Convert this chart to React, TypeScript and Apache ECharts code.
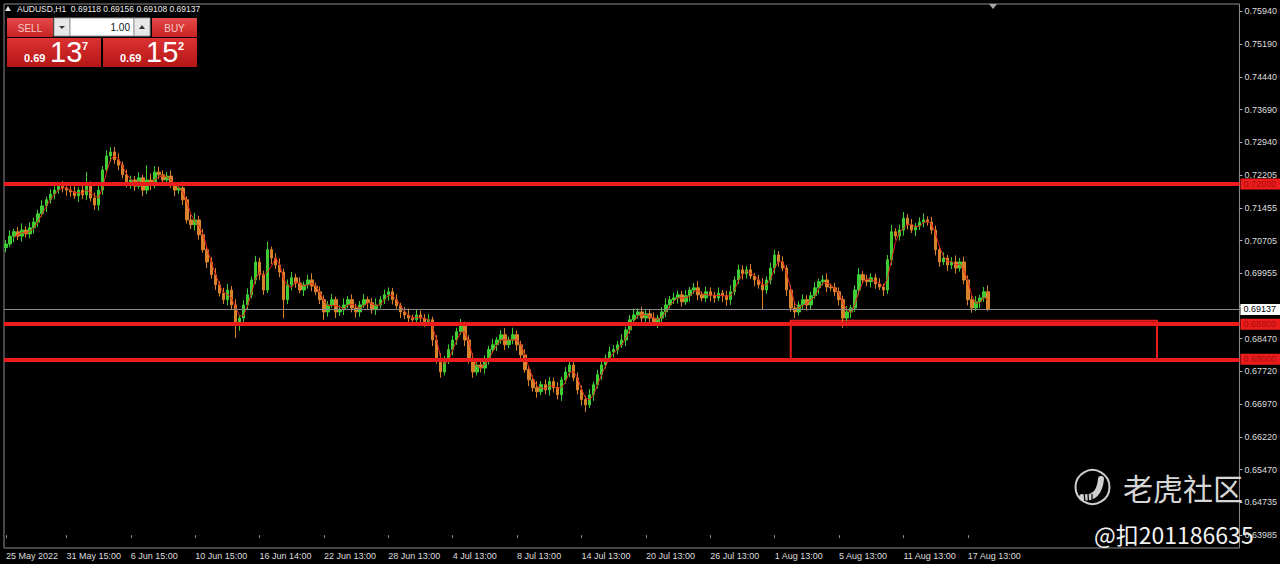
import React, { useEffect, useRef } from 'react';
import * as echarts from 'echarts';

// ---- instrument / header ----
const symbolName = 'AUDUSD,H1';
const lastBarQuote = ['0.69118', '0.69156', '0.69108', '0.69137'];
const bidPrice = 0.69137;
const askPrice = 0.69152;
const lotSize = '1.00';

// ---- time axis: trading days, 6-hour sessions ----
const tradingDays = [
  '25 May', '26 May', '27 May', '30 May', '31 May',
  '1 Jun', '2 Jun', '3 Jun', '6 Jun', '7 Jun', '8 Jun', '9 Jun', '10 Jun', '13 Jun', '14 Jun', '15 Jun', '16 Jun', '17 Jun',
  '20 Jun', '21 Jun', '22 Jun', '23 Jun', '24 Jun', '27 Jun', '28 Jun', '29 Jun', '30 Jun',
  '1 Jul', '4 Jul', '5 Jul', '6 Jul', '7 Jul', '8 Jul', '11 Jul', '12 Jul', '13 Jul', '14 Jul', '15 Jul',
  '18 Jul', '19 Jul', '20 Jul', '21 Jul', '22 Jul', '25 Jul', '26 Jul', '27 Jul', '28 Jul', '29 Jul',
  '1 Aug', '2 Aug', '3 Aug', '4 Aug', '5 Aug', '8 Aug', '9 Aug', '10 Aug', '11 Aug', '12 Aug',
  '15 Aug', '16 Aug', '17 Aug', '18 Aug',
];
const sessionHours = ['00:00', '06:00', '12:00', '18:00'];
const firstDaySessions = ['18:00'];
const shiftSlots = 62; // empty room right of the last bar

// bar where each time label sits, and the text shown there
const xTickBars = [
  '25 May 18:00', '31 May 12:00', '6 Jun 12:00', '10 Jun 12:00', '16 Jun 12:00', '22 Jun 12:00',
  '28 Jun 12:00', '4 Jul 12:00', '8 Jul 12:00', '14 Jul 12:00', '20 Jul 12:00', '26 Jul 12:00',
  '1 Aug 12:00', '5 Aug 12:00', '11 Aug 12:00', '17 Aug 12:00',
];
const xTickLabels = [
  '25 May 2022', '31 May 15:00', '6 Jun 15:00', '10 Jun 15:00', '16 Jun 14:00', '22 Jun 13:00',
  '28 Jun 13:00', '4 Jul 13:00', '8 Jul 13:00', '14 Jul 13:00', '20 Jul 13:00', '26 Jul 13:00',
  '1 Aug 13:00', '5 Aug 13:00', '11 Aug 13:00', '17 Aug 13:00',
];

// ---- price scale ----
const priceMin = 0.63693;
const priceMax = 0.76107;
// price labels, bottom to top, evenly spaced on the scale
// (the slot under the bid tag stays empty)
const yTickLabels = [
  '0.63985', '0.64735', '0.65470', '0.66220', '0.66970', '0.67720', '0.68470', '', '0.69955',
  '0.70705', '0.71455', '0.72205', '0.72940', '0.73690', '0.74440', '0.75190', '0.75940',
];
const yTickFirst = -0.391;
const yTickLast = 16.224;

// ---- OHLC (6-hour bars) ----
const barOpen = [
  0.7055, 0.7063, 0.7081, 0.7091, 0.7081, 0.7095, 0.7086, 0.7100, 0.7113, 0.7132,
  0.7150, 0.7164, 0.7177, 0.7186, 0.7195, 0.7191, 0.7186, 0.7182, 0.7173, 0.7186,
  0.7175, 0.7198, 0.7168, 0.7152, 0.7186, 0.7232, 0.7264, 0.7273, 0.7255, 0.7243,
  0.7221, 0.7202, 0.7209, 0.7195, 0.7214, 0.7186, 0.7209, 0.7198, 0.7227, 0.7221,
  0.7209, 0.7218, 0.7198, 0.7186, 0.7191, 0.7164, 0.7118, 0.7107, 0.7118, 0.7084,
  0.7050, 0.7022, 0.6993, 0.6970, 0.6951, 0.6936, 0.6958, 0.6924, 0.6879, 0.6894,
  0.6924, 0.6947, 0.6981, 0.7022, 0.6993, 0.6958, 0.7050, 0.7031, 0.7015, 0.6999,
  0.6936, 0.6970, 0.6986, 0.6974, 0.6958, 0.6970, 0.6981, 0.6967, 0.6954, 0.6936,
  0.6908, 0.6924, 0.6936, 0.6908, 0.6913, 0.6924, 0.6936, 0.6917, 0.6908, 0.6924,
  0.6936, 0.6929, 0.6913, 0.6924, 0.6936, 0.6947, 0.6954, 0.6936, 0.6922, 0.6908,
  0.6901, 0.6894, 0.6890, 0.6901, 0.6894, 0.6885, 0.6890, 0.6844, 0.6799, 0.6771,
  0.6799, 0.6822, 0.6844, 0.6863, 0.6879, 0.6844, 0.6799, 0.6771, 0.6787, 0.6780,
  0.6799, 0.6822, 0.6833, 0.6844, 0.6856, 0.6833, 0.6844, 0.6856, 0.6833, 0.6810,
  0.6776, 0.6753, 0.6735, 0.6726, 0.6742, 0.6730, 0.6749, 0.6735, 0.6719, 0.6753,
  0.6771, 0.6787, 0.6758, 0.6730, 0.6708, 0.6696, 0.6719, 0.6742, 0.6765, 0.6787,
  0.6803, 0.6817, 0.6822, 0.6833, 0.6844, 0.6867, 0.6890, 0.6901, 0.6908, 0.6894,
  0.6904, 0.6894, 0.6885, 0.6894, 0.6908, 0.6924, 0.6936, 0.6940, 0.6947, 0.6931,
  0.6945, 0.6958, 0.6963, 0.6947, 0.6940, 0.6954, 0.6945, 0.6940, 0.6951, 0.6945,
  0.6936, 0.6954, 0.6981, 0.7004, 0.6995, 0.7004, 0.6990, 0.6981, 0.6970, 0.6958,
  0.6981, 0.7008, 0.7038, 0.7022, 0.7008, 0.6958, 0.6917, 0.6908, 0.6924, 0.6936,
  0.6924, 0.6945, 0.6963, 0.6977, 0.6981, 0.6965, 0.6963, 0.6954, 0.6936, 0.6894,
  0.6908, 0.6917, 0.6958, 0.6993, 0.6981, 0.6977, 0.6986, 0.6972, 0.6965, 0.6958,
  0.7027, 0.7091, 0.7081, 0.7095, 0.7122, 0.7107, 0.7095, 0.7104, 0.7113, 0.7118,
  0.7113, 0.7095, 0.7050, 0.7022, 0.7031, 0.7015, 0.7022, 0.7008, 0.7022, 0.6981,
  0.6936, 0.6917, 0.6931, 0.6940, 0.6954,
];
const barClose = [
  0.7063, 0.7081, 0.7091, 0.7081, 0.7095, 0.7086, 0.7100, 0.7113, 0.7132, 0.7150,
  0.7164, 0.7177, 0.7186, 0.7195, 0.7191, 0.7186, 0.7182, 0.7173, 0.7186, 0.7175,
  0.7198, 0.7168, 0.7152, 0.7186, 0.7232, 0.7264, 0.7273, 0.7255, 0.7243, 0.7221,
  0.7202, 0.7209, 0.7195, 0.7214, 0.7186, 0.7209, 0.7198, 0.7227, 0.7221, 0.7209,
  0.7218, 0.7198, 0.7186, 0.7191, 0.7164, 0.7118, 0.7107, 0.7118, 0.7084, 0.7050,
  0.7022, 0.6993, 0.6970, 0.6951, 0.6936, 0.6958, 0.6924, 0.6879, 0.6894, 0.6924,
  0.6947, 0.6981, 0.7022, 0.6993, 0.6958, 0.7050, 0.7031, 0.7015, 0.6999, 0.6936,
  0.6970, 0.6986, 0.6974, 0.6958, 0.6970, 0.6981, 0.6967, 0.6954, 0.6936, 0.6908,
  0.6924, 0.6936, 0.6908, 0.6913, 0.6924, 0.6936, 0.6917, 0.6908, 0.6924, 0.6936,
  0.6929, 0.6913, 0.6924, 0.6936, 0.6947, 0.6954, 0.6936, 0.6922, 0.6908, 0.6901,
  0.6894, 0.6890, 0.6901, 0.6894, 0.6885, 0.6890, 0.6844, 0.6799, 0.6771, 0.6799,
  0.6822, 0.6844, 0.6863, 0.6879, 0.6844, 0.6799, 0.6771, 0.6787, 0.6780, 0.6799,
  0.6822, 0.6833, 0.6844, 0.6856, 0.6833, 0.6844, 0.6856, 0.6833, 0.6810, 0.6776,
  0.6753, 0.6735, 0.6726, 0.6742, 0.6730, 0.6749, 0.6735, 0.6719, 0.6753, 0.6771,
  0.6787, 0.6758, 0.6730, 0.6708, 0.6696, 0.6719, 0.6742, 0.6765, 0.6787, 0.6803,
  0.6817, 0.6822, 0.6833, 0.6844, 0.6867, 0.6890, 0.6901, 0.6908, 0.6894, 0.6904,
  0.6894, 0.6885, 0.6894, 0.6908, 0.6924, 0.6936, 0.6940, 0.6947, 0.6931, 0.6945,
  0.6958, 0.6963, 0.6947, 0.6940, 0.6954, 0.6945, 0.6940, 0.6951, 0.6945, 0.6936,
  0.6954, 0.6981, 0.7004, 0.6995, 0.7004, 0.6990, 0.6981, 0.6970, 0.6958, 0.6981,
  0.7008, 0.7038, 0.7022, 0.7008, 0.6958, 0.6917, 0.6908, 0.6924, 0.6936, 0.6924,
  0.6945, 0.6963, 0.6977, 0.6981, 0.6965, 0.6963, 0.6954, 0.6936, 0.6894, 0.6908,
  0.6917, 0.6958, 0.6993, 0.6981, 0.6977, 0.6986, 0.6972, 0.6965, 0.6958, 0.7027,
  0.7091, 0.7081, 0.7095, 0.7122, 0.7107, 0.7095, 0.7104, 0.7113, 0.7118, 0.7113,
  0.7095, 0.7050, 0.7022, 0.7031, 0.7015, 0.7022, 0.7008, 0.7022, 0.6981, 0.6936,
  0.6917, 0.6931, 0.6940, 0.6954, 0.69137,
];
const barHigh = [
  0.7072, 0.7094, 0.7098, 0.7102, 0.7110, 0.7103, 0.7112, 0.7123, 0.7141, 0.7163,
  0.7171, 0.7188, 0.7201, 0.7203, 0.7207, 0.7201, 0.7195, 0.7195, 0.7193, 0.7197,
  0.7227, 0.7206, 0.7180, 0.7196, 0.7241, 0.7277, 0.7284, 0.7284, 0.7270, 0.7251,
  0.7233, 0.7219, 0.7218, 0.7227, 0.7221, 0.7243, 0.7224, 0.7241, 0.7239, 0.7231,
  0.7227, 0.7231, 0.7205, 0.7202, 0.7206, 0.7172, 0.7130, 0.7134, 0.7127, 0.7097,
  0.7057, 0.7033, 0.7008, 0.6978, 0.6963, 0.6972, 0.6967, 0.6937, 0.6901, 0.6935,
  0.6962, 0.6989, 0.7036, 0.7032, 0.7002, 0.7068, 0.7057, 0.7042, 0.7030, 0.7007,
  0.6982, 0.6999, 0.6995, 0.6987, 0.6977, 0.6993, 0.6996, 0.6975, 0.6966, 0.6946,
  0.6933, 0.6949, 0.6943, 0.6924, 0.6939, 0.6944, 0.6948, 0.6927, 0.6933, 0.6949,
  0.6943, 0.6940, 0.6939, 0.6944, 0.6959, 0.6964, 0.6963, 0.6949, 0.6929, 0.6919,
  0.6916, 0.6902, 0.6913, 0.6911, 0.6903, 0.6903, 0.6897, 0.6855, 0.6814, 0.6807,
  0.6834, 0.6854, 0.6872, 0.6892, 0.6886, 0.6855, 0.6814, 0.6795, 0.6799, 0.6809,
  0.6831, 0.6846, 0.6851, 0.6867, 0.6871, 0.6852, 0.6872, 0.6866, 0.6842, 0.6823,
  0.6783, 0.6764, 0.6750, 0.6750, 0.6754, 0.6759, 0.6758, 0.6748, 0.6760, 0.6782,
  0.6803, 0.6795, 0.6770, 0.6740, 0.6717, 0.6732, 0.6749, 0.6776, 0.6802, 0.6811,
  0.6829, 0.6832, 0.6842, 0.6857, 0.6874, 0.6901, 0.6916, 0.6916, 0.6920, 0.6914,
  0.6913, 0.6907, 0.6901, 0.6919, 0.6939, 0.6944, 0.6952, 0.6957, 0.6956, 0.6958,
  0.6965, 0.6974, 0.6978, 0.6955, 0.6966, 0.6964, 0.6954, 0.6964, 0.6958, 0.6956,
  0.6969, 0.6989, 0.7016, 0.7014, 0.7013, 0.7017, 0.6997, 0.6992, 0.6985, 0.6989,
  0.7020, 0.7050, 0.7047, 0.7035, 0.7015, 0.6969, 0.6932, 0.6932, 0.6948, 0.6946,
  0.6954, 0.6976, 0.6984, 0.6992, 0.6996, 0.6973, 0.6975, 0.6964, 0.6945, 0.6921,
  0.6924, 0.6969, 0.7008, 0.7001, 0.6993, 0.6996, 0.6995, 0.6985, 0.6972, 0.7038,
  0.7107, 0.7099, 0.7107, 0.7136, 0.7131, 0.7120, 0.7111, 0.7124, 0.7133, 0.7126,
  0.7125, 0.7105, 0.7059, 0.7044, 0.7038, 0.7033, 0.7037, 0.7031, 0.7034, 0.6991,
  0.6945, 0.6944, 0.6947, 0.6965, 0.6969,
];
const barLow = [
  0.7044, 0.7056, 0.7067, 0.7072, 0.7069, 0.7078, 0.7076, 0.7087, 0.7102, 0.7125,
  0.7136, 0.7155, 0.7165, 0.7178, 0.7181, 0.7173, 0.7171, 0.7166, 0.7159, 0.7166,
  0.7163, 0.7160, 0.7141, 0.7139, 0.7175, 0.7225, 0.7250, 0.7246, 0.7231, 0.7213,
  0.7192, 0.7189, 0.7184, 0.7188, 0.7172, 0.7177, 0.7186, 0.7190, 0.7211, 0.7196,
  0.7198, 0.7191, 0.7172, 0.7177, 0.7152, 0.7110, 0.7097, 0.7094, 0.7073, 0.7043,
  0.7008, 0.6984, 0.6958, 0.6943, 0.6926, 0.6923, 0.6913, 0.6849, 0.6865, 0.6885,
  0.6912, 0.6939, 0.6971, 0.6980, 0.6947, 0.6951, 0.7017, 0.7006, 0.6987, 0.6894,
  0.6926, 0.6957, 0.6963, 0.6951, 0.6944, 0.6961, 0.6955, 0.6946, 0.6926, 0.6890,
  0.6897, 0.6917, 0.6894, 0.6899, 0.6901, 0.6916, 0.6907, 0.6895, 0.6897, 0.6917,
  0.6915, 0.6904, 0.6901, 0.6916, 0.6926, 0.6934, 0.6925, 0.6915, 0.6894, 0.6892,
  0.6882, 0.6882, 0.6880, 0.6881, 0.6874, 0.6878, 0.6830, 0.6790, 0.6758, 0.6763,
  0.6789, 0.6809, 0.6833, 0.6856, 0.6830, 0.6790, 0.6758, 0.6763, 0.6770, 0.6767,
  0.6788, 0.6815, 0.6819, 0.6835, 0.6821, 0.6825, 0.6834, 0.6820, 0.6799, 0.6769,
  0.6739, 0.6726, 0.6712, 0.6718, 0.6720, 0.6717, 0.6724, 0.6708, 0.6705, 0.6744,
  0.6759, 0.6750, 0.6720, 0.6695, 0.6680, 0.6689, 0.6705, 0.6733, 0.6753, 0.6779,
  0.6793, 0.6804, 0.6811, 0.6826, 0.6830, 0.6858, 0.6878, 0.6893, 0.6884, 0.6881,
  0.6883, 0.6878, 0.6871, 0.6885, 0.6896, 0.6916, 0.6926, 0.6927, 0.6920, 0.6924,
  0.6931, 0.6949, 0.6935, 0.6932, 0.6930, 0.6932, 0.6929, 0.6933, 0.6931, 0.6922,
  0.6924, 0.6946, 0.6971, 0.6982, 0.6984, 0.6983, 0.6967, 0.6961, 0.6913, 0.6950,
  0.6971, 0.6995, 0.7011, 0.7001, 0.6944, 0.6908, 0.6894, 0.6900, 0.6914, 0.6911,
  0.6913, 0.6938, 0.6949, 0.6968, 0.6953, 0.6955, 0.6944, 0.6923, 0.6872, 0.6887,
  0.6894, 0.6908, 0.6946, 0.6973, 0.6967, 0.6964, 0.6961, 0.6958, 0.6944, 0.6949,
  0.7015, 0.7073, 0.7071, 0.7082, 0.7096, 0.7088, 0.7081, 0.7095, 0.7101, 0.7105,
  0.7085, 0.7037, 0.7011, 0.7015, 0.7001, 0.7006, 0.6996, 0.7000, 0.6971, 0.6923,
  0.6906, 0.6910, 0.6917, 0.6931, 0.6910,
];

// ---- drawn levels ----
const levelLines = [0.72, 0.688, 0.68];
const zoneFrom = '2 Aug 12:00';
const zoneTo = 'shift 42';
const zoneTop = 0.6888;
const zoneBottom = 0.6796;
const maPeriod = 3;

// ---- watermark ----
const brandText = '老虎社区';
const handleText = '@扣201186635';

// ---- styles ----
const UI_FONT = '"Liberation Sans", Arial, sans-serif';
const CJK_FONT = '"Noto Sans CJK SC", "Noto Sans", sans-serif';
const BULL = '#3fcc35';
const BEAR = '#d9822b';
const MA_RED = '#e3241c';
const LEVEL_RED = '#ec1c1c';
const FRAME = '#8c8c8c';
const AXIS_TEXT = '#dedede';

function buildCategories(): string[] {
  const cats: string[] = [];
  tradingDays.forEach((day, d) => {
    const hours = d === 0 ? firstDaySessions : sessionHours;
    hours.forEach((h) => cats.push(`${day} ${h}`));
  });
  for (let s = 1; s <= shiftSlots; s++) cats.push(`shift ${s}`);
  return cats;
}

function movingAverage(values: number[], period: number): (number | string)[] {
  return values.map((_, i) => {
    if (i < period - 1) return '-';
    let sum = 0;
    for (let k = i - period + 1; k <= i; k++) sum += values[k];
    return +(sum / period).toFixed(5);
  });
}

function txt(x: number, y: number, text: string, size: number, fill: string, extra: any = {}) {
  const align = extra.align ?? 'left';
  return {
    type: 'text',
    x,
    y,
    z: 100,
    silent: true,
    style: {
      text,
      fill,
      fontSize: size,
      fontFamily: extra.family ?? UI_FONT,
      fontWeight: extra.weight ?? 'normal',
      align,
      textAlign: align,
      verticalAlign: 'middle',
      textVerticalAlign: 'middle',
    },
  };
}

function box(x: number, y: number, w: number, h: number, fill: any, stroke?: string) {
  return {
    type: 'rect',
    z: 99,
    silent: true,
    shape: { x, y, width: w, height: h },
    style: { fill, stroke: stroke ?? 'none', lineWidth: 1 },
  };
}

function redGradient(top: string, bottom: string) {
  return new echarts.graphic.LinearGradient(0, 0, 0, 1, [
    { offset: 0, color: top },
    { offset: 1, color: bottom },
  ]);
}

function quoteParts(p: number): [string, string, string] {
  const s = p.toFixed(5);
  return [s.slice(0, 4), s.slice(4, 6), s.slice(6)];
}

function buildGraphics() {
  const [sBig, sMid, sSup] = quoteParts(bidPrice);
  const [bBig, bMid, bSup] = quoteParts(askPrice);
  const els: any[] = [
    // header line
    { type: 'polygon', z: 100, silent: true, shape: { points: [[5, 11], [11, 11], [8, 6]] }, style: { fill: '#e6e6e6' } },
    txt(17, 9, `${symbolName}  ${lastBarQuote.join(' ')}`, 8.5, '#ececec'),
    // chart shift marker
    { type: 'polygon', z: 100, silent: true, shape: { points: [[989, 4], [997, 4], [993, 9]] }, style: { fill: '#a8a8a8' } },

    // one-click trading panel
    box(7, 18, 46, 19, redGradient('#e44a4a', '#c82222')),
    txt(30, 28, 'SELL', 10, '#f6c8c8', { align: 'center' }),
    box(54, 18, 16, 18, '#e8e8e8', '#9a9a9a'),
    { type: 'polygon', z: 100, silent: true, shape: { points: [[59, 26], [65, 26], [62, 29]] }, style: { fill: '#333' } },
    box(70, 18, 64, 18, '#ffffff', '#9a9a9a'),
    txt(130, 27.5, lotSize, 10, '#111', { align: 'right' }),
    box(134, 18, 16, 18, '#e8e8e8', '#9a9a9a'),
    { type: 'polygon', z: 100, silent: true, shape: { points: [[139, 29], [145, 29], [142, 25]] }, style: { fill: '#333' } },
    box(152, 18, 45, 19, redGradient('#e44a4a', '#c82222')),
    txt(174.5, 28, 'BUY', 10, '#f6c8c8', { align: 'center' }),

    box(7, 38, 94, 29, redGradient('#dc3232', '#b41616')),
    txt(24, 58, sBig, 11, '#ffffff', { weight: 'bold' }),
    txt(50, 52, sMid, 29, '#ffffff'),
    txt(82, 46, sSup, 11, '#ffffff', { weight: 'bold' }),
    box(103, 38, 94, 29, redGradient('#dc3232', '#b41616')),
    txt(120, 58, bBig, 11, '#ffffff', { weight: 'bold' }),
    txt(146, 52, bMid, 29, '#ffffff'),
    txt(178, 46, bSup, 11, '#ffffff', { weight: 'bold' }),

    // watermark logo
    { type: 'circle', z: 100, silent: true, shape: { cx: 1092.5, cy: 487, r: 17 }, style: { fill: 'none', stroke: '#cfcfcf', lineWidth: 2 } },
    {
      type: 'bezierCurve', z: 100, silent: true,
      shape: { x1: 1082, y1: 497, cpx1: 1099, cpy1: 500, x2: 1101, y2: 479 },
      style: { stroke: '#cfcfcf', lineWidth: 6, fill: 'none', lineCap: 'round' },
    },
    { type: 'line', z: 101, silent: true, shape: { x1: 1084, y1: 493, x2: 1085, y2: 501 }, style: { stroke: '#000', lineWidth: 1.2 } },
    { type: 'line', z: 101, silent: true, shape: { x1: 1088, y1: 494, x2: 1088.5, y2: 502 }, style: { stroke: '#000', lineWidth: 1.2 } },
    { type: 'line', z: 101, silent: true, shape: { x1: 1092, y1: 494, x2: 1092, y2: 502 }, style: { stroke: '#000', lineWidth: 1.2 } },
    txt(1123, 487, brandText, 30, '#d6d6d6', { family: CJK_FONT }),
    txt(1094, 534, handleText, 23, '#f2f2f2', { family: CJK_FONT }),
  ];
  return els;
}

function buildOption() {
  const categories = buildCategories();
  const candles = barOpen.map((o, i) => [o, barClose[i], barLow[i], barHigh[i]]);
  const ma = movingAverage(barClose, maPeriod);
  const tickText = new Map<string, string>();
  xTickBars.forEach((bar, i) => tickText.set(bar, xTickLabels[i]));
  const isTick = (_idx: number, value: string) => tickText.has(value);

  const tagLabel = (bg: string, fg: string) => ({
    show: true,
    position: 'end',
    distance: 1,
    backgroundColor: bg,
    color: fg,
    fontSize: 9,
    fontFamily: UI_FONT,
    padding: [1, 4, 1, 3],
  });

  return {
    animation: false,
    backgroundColor: '#000000',
    grid: {
      left: 4,
      top: 4,
      right: 39,
      bottom: 16,
      show: true,
      borderColor: FRAME,
      borderWidth: 1,
      backgroundColor: '#000000',
    },
    xAxis: {
      type: 'category',
      data: categories,
      boundaryGap: true,
      axisLine: { show: false },
      axisTick: {
        show: true,
        alignWithLabel: true,
        interval: isTick,
        length: 3,
        lineStyle: { color: FRAME },
      },
      axisLabel: {
        interval: isTick,
        formatter: (value: string) => tickText.get(value) ?? '',
        align: 'left',
        color: AXIS_TEXT,
        fontSize: 9,
        fontFamily: UI_FONT,
        margin: 3,
      },
      splitLine: { show: false },
    },
    yAxis: [
      {
        type: 'value',
        min: priceMin,
        max: priceMax,
        show: false,
        splitLine: { show: false },
      },
      {
        // label scale: one unit per printed price
        type: 'value',
        position: 'right',
        min: yTickFirst,
        max: yTickLast,
        splitNumber: 16,
        minInterval: 1,
        maxInterval: 1,
        axisLine: { show: false },
        axisTick: { show: true, length: 3, lineStyle: { color: '#b0b0b0' } },
        axisLabel: {
          color: AXIS_TEXT,
          fontSize: 9,
          fontFamily: UI_FONT,
          margin: 5,
          showMinLabel: false,
          showMaxLabel: false,
          formatter: (v: number) => {
            const k = Math.round(v);
            return Math.abs(v - k) < 1e-6 ? yTickLabels[k] ?? '' : '';
          },
        },
        splitLine: { show: false },
      },
    ],
    series: [
      {
        type: 'candlestick',
        name: symbolName,
        xAxisIndex: 0,
        yAxisIndex: 0,
        data: candles,
        barWidth: 3,
        itemStyle: {
          color: BULL,
          color0: BEAR,
          borderColor: BULL,
          borderColor0: BEAR,
          borderWidth: 1,
        },
        markArea: {
          silent: true,
          itemStyle: { color: 'rgba(0,0,0,0)', borderColor: LEVEL_RED, borderWidth: 2 },
          data: [[{ xAxis: zoneFrom, yAxis: zoneTop }, { xAxis: zoneTo, yAxis: zoneBottom }]],
        },
        markLine: {
          silent: true,
          precision: 5,
          symbol: ['none', 'none'],
          data: [
            {
              yAxis: bidPrice,
              lineStyle: { color: '#8a8a8a', width: 1, type: 'solid' },
              label: { ...tagLabel('#ffffff', '#000000'), formatter: bidPrice.toFixed(5) },
            },
            ...levelLines.map((v) => ({
              yAxis: v,
              lineStyle: { color: LEVEL_RED, width: 4, type: 'solid' },
              label: { ...tagLabel(LEVEL_RED, '#a80c0c'), formatter: v.toFixed(5) },
            })),
          ],
        },
      },
      {
        type: 'line',
        name: 'MA',
        xAxisIndex: 0,
        yAxisIndex: 0,
        data: ma,
        showSymbol: false,
        symbol: 'none',
        lineStyle: { color: MA_RED, width: 1 },
        silent: true,
      },
    ],
    graphic: buildGraphics(),
  };
}

export default function App() {
  const ref = useRef<HTMLDivElement>(null);
  useEffect(() => {
    if (!ref.current) return;
    const chart = echarts.init(ref.current, undefined, { renderer: 'svg' });
    chart.setOption(buildOption() as any);
    return () => chart.dispose();
  }, []);
  return (
    <div
      ref={ref}
      style={{ position: 'fixed', left: 0, top: 0, width: 1280, height: 564, background: '#000' }}
    />
  );
}
